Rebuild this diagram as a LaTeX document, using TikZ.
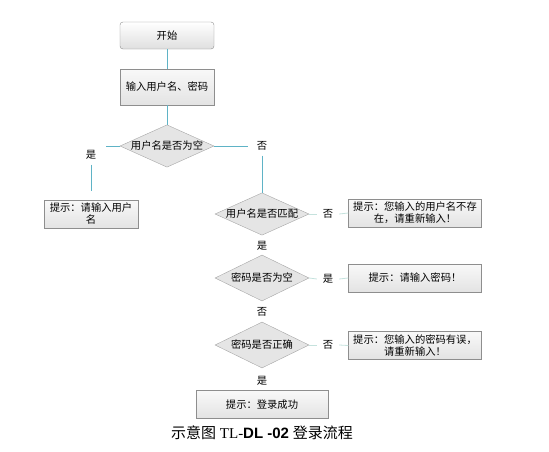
\documentclass[tikz,border=0pt]{standalone}
\usepackage{fontspec}
\setmainfont{Liberation Serif}
\newfontfamily\cjk{Noto Sans CJK SC}
\usetikzlibrary{shapes.geometric,shadings}
\definecolor{link}{HTML}{5FB3C6}
\definecolor{faint}{HTML}{C5E2DD}
\definecolor{edgegray}{HTML}{8E8E8E}
\tikzset{
  every node/.style={font=\cjk\fontsize{10.3}{12}\selectfont},
  startbox/.style={draw=edgegray, rounded corners=3pt, top color=white, bottom color=gray!25, minimum width=94pt, minimum height=27pt, inner sep=1pt},
  procbox/.style={draw=edgegray, top color=gray!5, bottom color=gray!22, minimum height=28pt, inner sep=1pt, align=center},
  decision/.style={diamond, draw=gray!70, fill=gray!20, aspect=2.2, minimum width=94pt, minimum height=42pt, inner sep=0pt},
  lbl/.style={inner sep=3pt},
  rlbl/.style={inner sep=0pt, minimum width=22pt, minimum height=12pt},
  link/.style={draw=link, line width=1pt},
  shortlink/.style={draw=faint, line width=0.8pt},
}
\begin{document}
\begin{tikzpicture}[x=1pt,y=-1pt]
\useasboundingbox (0,0) rectangle (549,451);
\node[startbox] (start) at (167,35.5) {开始};
\node[procbox, minimum width=94pt, minimum height=36pt] (input) at (167,87) {输入用户名、密码};
\node[decision] (d1) at (167,146) {用户名是否为空};
\coordinate (l1) at (106,146);
\node[lbl] (y1) at (91,155) {是};
\node[procbox, minimum width=94pt, text width=90pt] (b1) at (91,214) {提示：请输入用户\\名};
\coordinate (r1) at (248,146);
\node[lbl] (n1) at (262,146) {否};
\node[decision] (d2) at (262,214) {用户名是否匹配};
\node[rlbl] (n2) at (328,214) {否};
\node[procbox, minimum width=133pt, text width=130pt] (b2) at (415,213) {提示：您输入的用户名不存\\在，请重新输入！};
\node[lbl] (y2) at (262,246) {是};
\node[decision, minimum height=46pt] (d3) at (262,278) {密码是否为空};
\node[rlbl] (y3) at (328,279) {是};
\node[procbox, minimum width=133pt, text width=130pt] (b3) at (415,278) {提示：请输入密码！};
\node[lbl] (n3) at (262,312) {否};
\node[decision, minimum height=46pt] (d4) at (262,345) {密码是否正确};
\node[rlbl] (n4) at (328,345) {否};
\node[procbox, minimum width=133pt, text width=130pt] (b4) at (415,345.5) {提示：您输入的密码有误，\\请重新输入！};
\node[lbl] (y4) at (262,381) {是};
\node[procbox, minimum width=132pt] (b5) at (262,404.5) {提示：登录成功};
\node[font=\fontsize{15}{17}\selectfont] (cap) at (262,433) {{\cjk 示意图} TL-{\fontspec{Liberation Sans}\bfseries DL -02} {\cjk 登录流程}};
% connectors
\draw[link] (start) -- (input);
\draw[link] (input) -- (d1);
\draw[link] (d1.west) -- (l1);
\draw[link, shorten <=2pt, shorten >=9pt] (y1) -- (b1);
\draw[link] (d1.east) -- (r1);
\draw[link, shorten <=2pt] (n1) -- (d2);
\draw[shortlink] (d2.east) -- (n2.west);
\draw[shortlink] (n2.east) -- (b2.west);
\draw[shortlink] (d3.east) -- (y3.west);
\draw[shortlink] (y3.east) -- (b3.west);
\draw[shortlink] (d4.east) -- (n4.west);
\draw[shortlink] (n4.east) -- (b4.west);
\end{tikzpicture}
\end{document}
